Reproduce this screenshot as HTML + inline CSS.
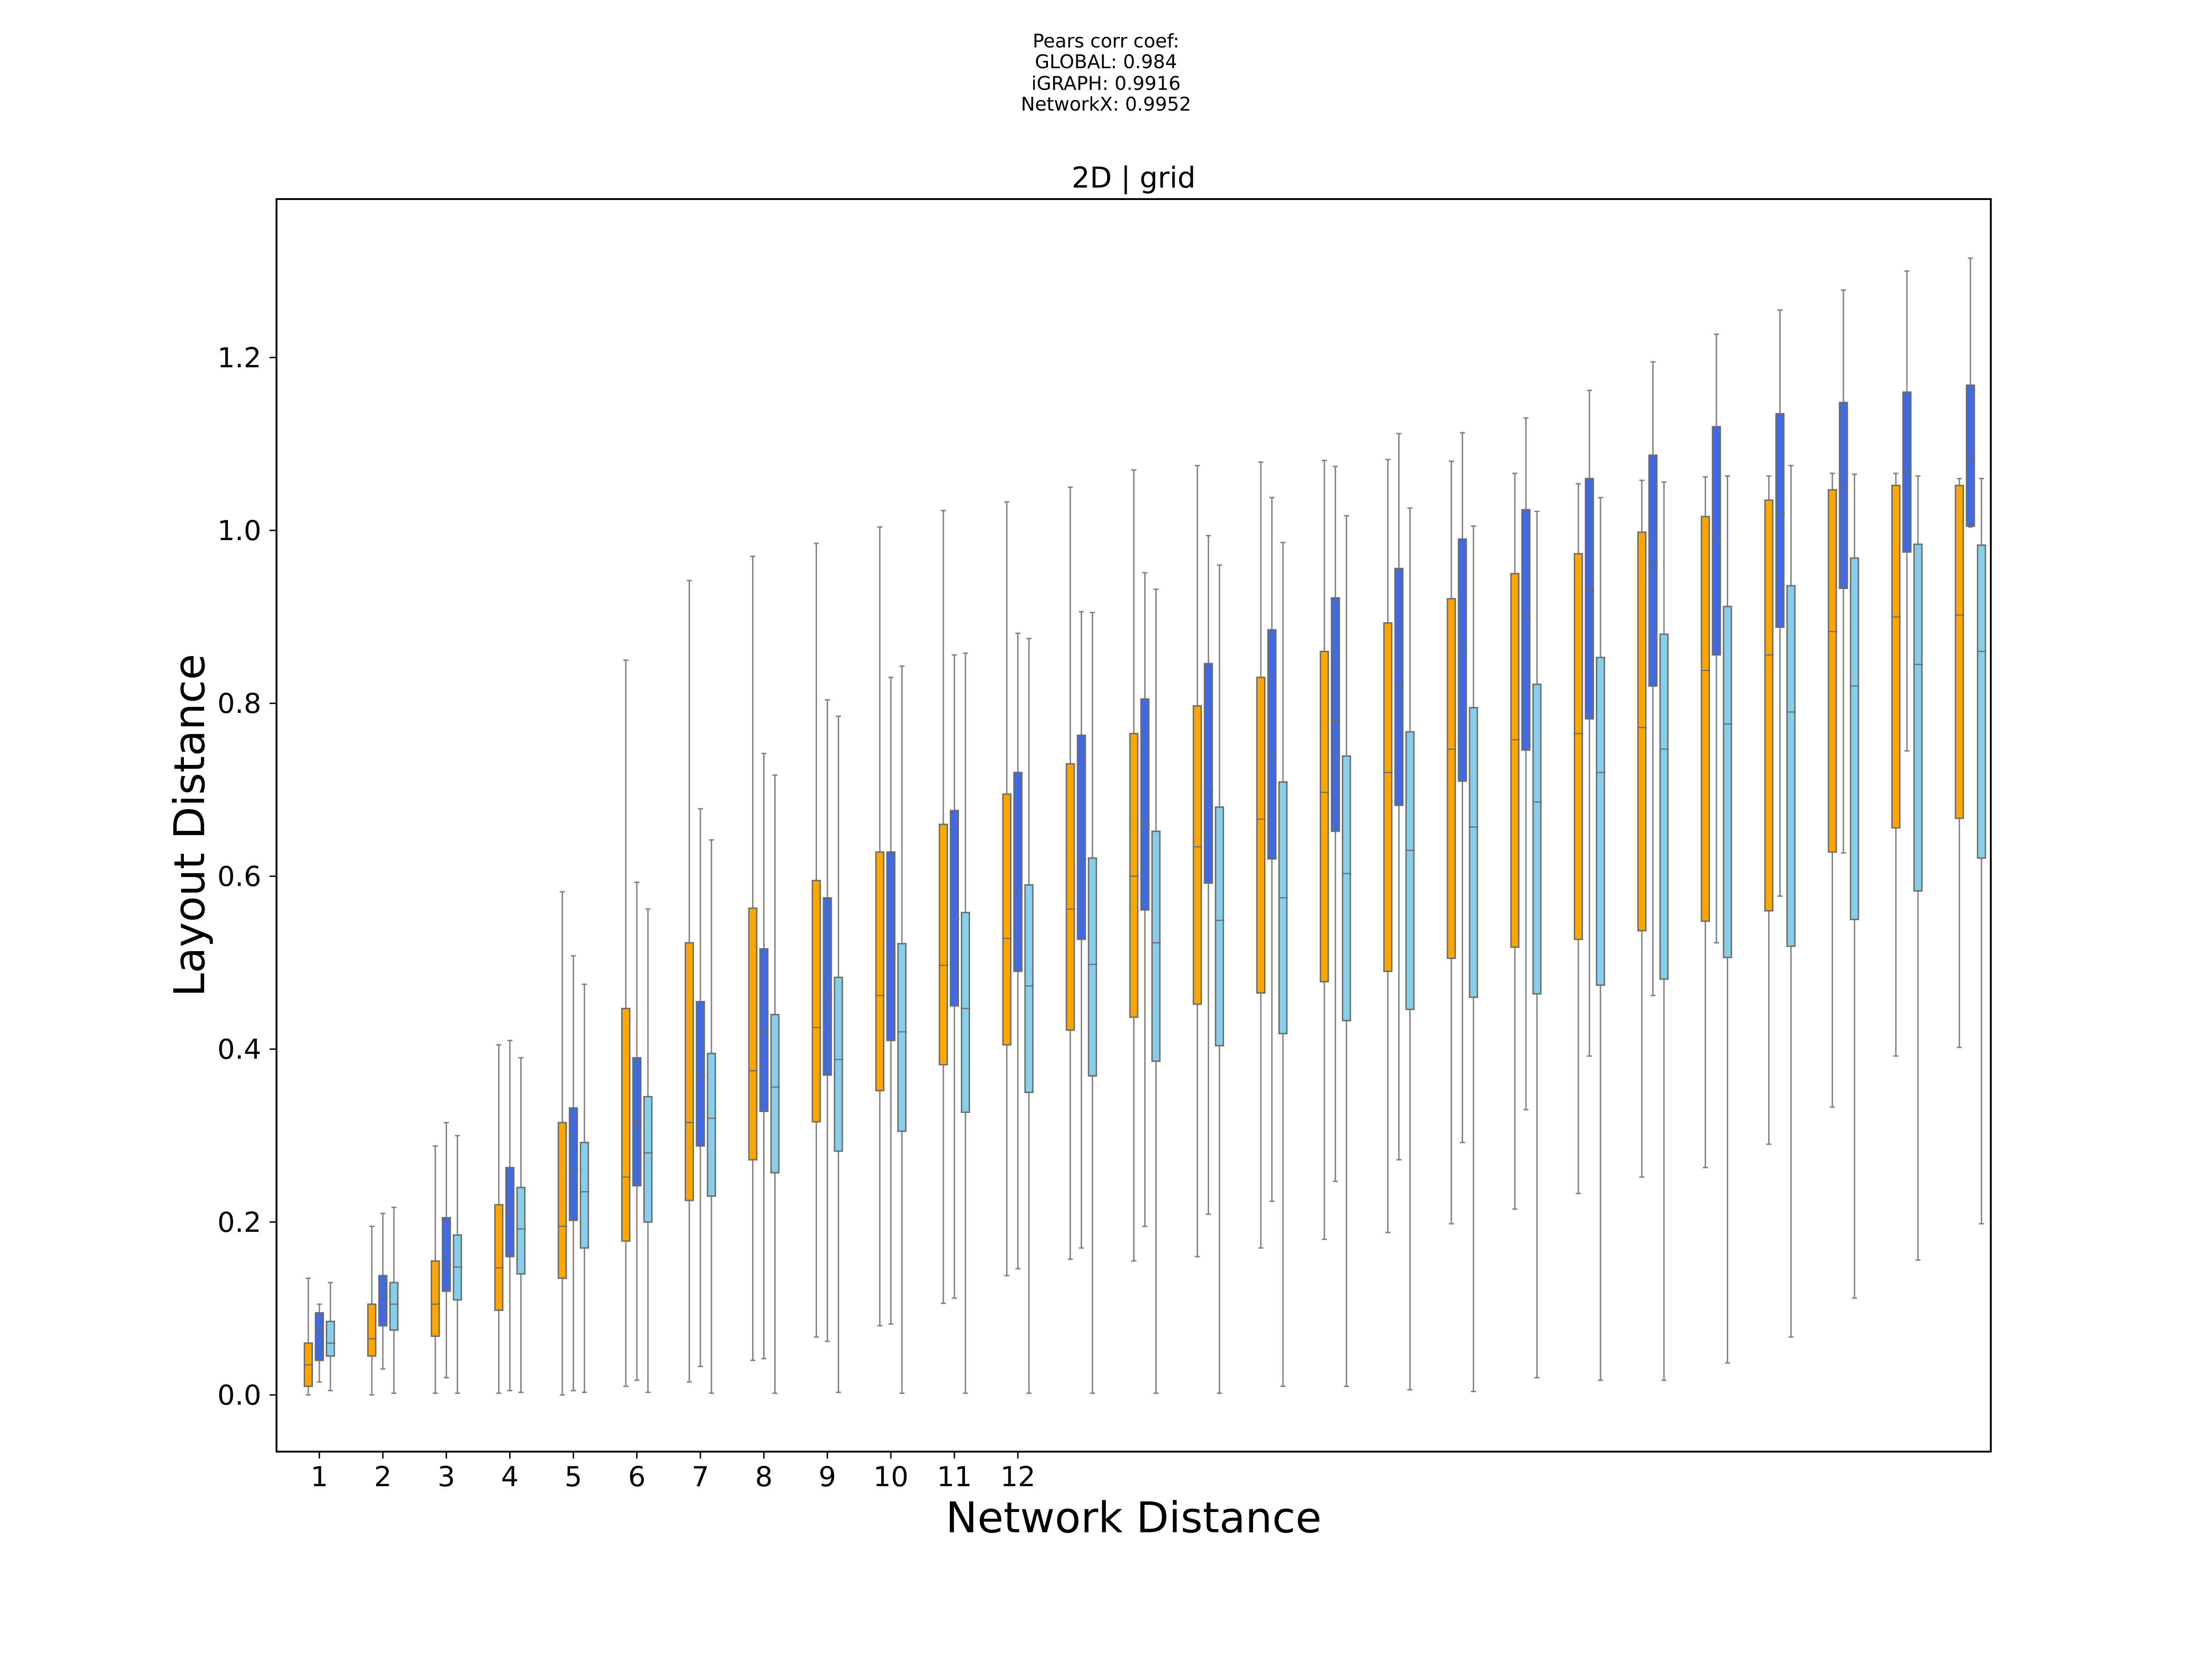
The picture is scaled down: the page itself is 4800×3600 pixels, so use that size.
<!DOCTYPE html>
<html><head><meta charset="utf-8"><style>
html,body{margin:0;padding:0;background:#fff;}
svg{display:block;font-family:"DejaVu Sans","Liberation Sans",sans-serif;}
</style></head><body>
<svg id="chart" width="4800" height="3600" viewBox="0 0 4800 3600" xmlns="http://www.w3.org/2000/svg">
<rect x="0" y="0" width="4800" height="3600" fill="#fff"/>
<g font-size="41" text-anchor="middle" fill="#000">
<text x="2400" y="103">Pears corr coef:</text>
<text x="2400" y="148">GLOBAL: 0.984</text>
<text x="2400" y="195">iGRAPH: 0.9916</text>
<text x="2400" y="240">NetworkX: 0.9952</text>
</g>
<text x="2460" y="407" font-size="62" text-anchor="middle">2D | grid</text>
<g id="plot"></g>
<text x="2460" y="3325" font-size="92" text-anchor="middle">Network Distance</text>
<text transform="translate(443,1791) rotate(-90)" font-size="92" text-anchor="middle">Layout Distance</text>
<rect x="600" y="432" width="3720" height="2718" fill="none" stroke="#000" stroke-width="4"/>
</svg>
<script>
const categories = [1,2,3,4,5,6,7,8,9,10,11,12,13,14,15,16,17,18,19,20,21,22,23,24,25,26,27];
const xTickLabels = ["1","2","3","4","5","6","7","8","9","10","11","12"];
const yTicks = [0.0,0.2,0.4,0.6,0.8,1.0,1.2];
const seriesNames = ["global","igraph","networkx"];
const seriesColors = ["#FFA500","#4169E1","#87CEEB"];
// each entry: [whislo, q1, median, q3, whishi]
const globalStats = [
[0,0.01,0.035,0.06,0.135],[0,0.045,0.065,0.105,0.195],[0.002,0.068,0.105,0.155,0.288],[0.002,0.098,0.147,0.22,0.405],
[0,0.135,0.195,0.315,0.582],[0.01,0.178,0.252,0.447,0.85],[0.015,0.225,0.315,0.523,0.942],[0.04,0.272,0.375,0.563,0.97],
[0.067,0.316,0.425,0.595,0.985],[0.08,0.352,0.462,0.628,1.004],[0.106,0.382,0.497,0.66,1.023],[0.138,0.405,0.528,0.695,1.033],
[0.157,0.422,0.562,0.73,1.05],[0.155,0.437,0.6,0.765,1.07],[0.16,0.452,0.634,0.797,1.075],[0.17,0.465,0.666,0.83,1.079],
[0.18,0.478,0.697,0.86,1.081],[0.188,0.49,0.72,0.893,1.082],[0.198,0.505,0.747,0.921,1.08],[0.215,0.518,0.758,0.95,1.066],
[0.233,0.527,0.765,0.973,1.054],[0.252,0.537,0.772,0.998,1.058],[0.263,0.548,0.838,1.016,1.062],[0.29,0.56,0.856,1.035,1.063],
[0.333,0.628,0.883,1.047,1.066],[0.392,0.656,0.9,1.052,1.066],[0.402,0.667,0.902,1.052,1.06]];
const igraphStats = [
[0.015,0.04,0.075,0.095,0.105],[0.03,0.08,0.115,0.138,0.21],[0.02,0.12,0.15,0.205,0.315],[0.005,0.16,0.21,0.263,0.41],
[0.005,0.202,0.26,0.332,0.508],[0.017,0.242,0.315,0.39,0.593],[0.033,0.288,0.37,0.455,0.678],[0.042,0.328,0.42,0.516,0.742],
[0.062,0.37,0.46,0.575,0.804],[0.082,0.41,0.51,0.628,0.83],[0.112,0.45,0.55,0.676,0.856],[0.146,0.49,0.58,0.72,0.881],
[0.17,0.527,0.62,0.763,0.906],[0.195,0.561,0.66,0.805,0.951],[0.209,0.592,0.7,0.846,0.994],[0.224,0.62,0.74,0.885,1.038],
[0.247,0.652,0.78,0.922,1.074],[0.272,0.682,0.82,0.956,1.112],[0.292,0.71,0.86,0.99,1.113],[0.33,0.746,0.9,1.024,1.13],
[0.392,0.782,0.93,1.06,1.162],[0.462,0.82,0.96,1.087,1.195],[0.523,0.856,0.99,1.12,1.227],[0.577,0.888,1.02,1.135,1.255],
[0.627,0.933,1.05,1.148,1.278],[0.745,0.975,1.07,1.16,1.3],[1.004,1.005,1.08,1.168,1.315]];
const networkxStats = [
[0.005,0.045,0.06,0.085,0.13],[0.002,0.075,0.105,0.13,0.217],[0.002,0.11,0.148,0.185,0.30],[0.003,0.14,0.192,0.24,0.39],
[0.003,0.17,0.235,0.292,0.475],[0.003,0.2,0.28,0.345,0.562],[0.002,0.23,0.32,0.395,0.642],[0.002,0.257,0.356,0.44,0.717],
[0.003,0.282,0.388,0.483,0.785],[0.002,0.305,0.42,0.522,0.843],[0.002,0.327,0.447,0.558,0.858],[0.002,0.35,0.473,0.59,0.875],
[0.002,0.369,0.498,0.621,0.905],[0.002,0.386,0.523,0.652,0.932],[0.002,0.404,0.549,0.68,0.96],[0.01,0.418,0.575,0.709,0.986],
[0.01,0.433,0.603,0.739,1.017],[0.006,0.446,0.63,0.767,1.026],[0.004,0.46,0.657,0.795,1.005],[0.02,0.464,0.686,0.822,1.022],
[0.017,0.474,0.72,0.853,1.038],[0.017,0.481,0.747,0.88,1.056],[0.037,0.506,0.776,0.912,1.063],[0.067,0.519,0.79,0.936,1.075],
[0.112,0.55,0.82,0.968,1.065],[0.156,0.583,0.845,0.984,1.063],[0.198,0.621,0.86,0.983,1.06]];

const NS="http://www.w3.org/2000/svg";
const plot=document.getElementById('plot');
const X0=600,X1=4320,Y0=432,Y1=3150;
function xScale(c){return 693+(c-1)*137.8;}
function yScale(v){return 3027-v*1876;}
function mk(tag,attrs,parent){const e=document.createElementNS(NS,tag);for(const k in attrs)e.setAttribute(k,attrs[k]);(parent||plot).appendChild(e);return e;}

yTicks.forEach(v=>{
  const y=yScale(v);
  const t=mk('line',{x1:X0-15,x2:X0,y1:y,y2:y,stroke:'#000','stroke-width':3});
  
  
  const l=mk('text',{x:567,y:y+21,'font-size':60,'text-anchor':'end'});
  
  
  l.textContent=v.toFixed(1);
});
xTickLabels.forEach((s,i)=>{
  const x=xScale(categories[i]);
  const t=mk('line',{x1:x,x2:x,y1:Y1,y2:Y1+15,stroke:'#000','stroke-width':3});
  
  
  const l=mk('text',{x:x,y:3225,'font-size':60,'text-anchor':'middle'});
  
  
  l.textContent=s;
});
const allStats=[globalStats,igraphStats,networkxStats];
const offsets=[-24,0,24];
const BW=17,CW=11;
allStats.forEach((stats,si)=>{
  stats.forEach((s,i)=>{
    const cx=xScale(categories[i])+offsets[si];
    const g=mk('g',{});
    
    
    const [lo,q1,md,q3,hi]=s.map(yScale);
    mk('line',{x1:cx,x2:cx,y1:q3,y2:hi,stroke:'#808080','stroke-width':3},g);
    mk('line',{x1:cx,x2:cx,y1:q1,y2:lo,stroke:'#808080','stroke-width':3},g);
    mk('line',{x1:cx-CW/2,x2:cx+CW/2,y1:hi,y2:hi,stroke:'#808080','stroke-width':3},g);
    mk('line',{x1:cx-CW/2,x2:cx+CW/2,y1:lo,y2:lo,stroke:'#808080','stroke-width':3},g);
    mk('rect',{x:cx-BW/2,y:q3,width:BW,height:Math.max(q1-q3,1),fill:seriesColors[si],stroke:'#6b6b6b','stroke-width':3},g);
    mk('line',{x1:cx-BW/2,x2:cx+BW/2+2,y1:md,y2:md,stroke:'#6b6b6b','stroke-width':2.5},g);
  });
});
</script>
</body></html>
